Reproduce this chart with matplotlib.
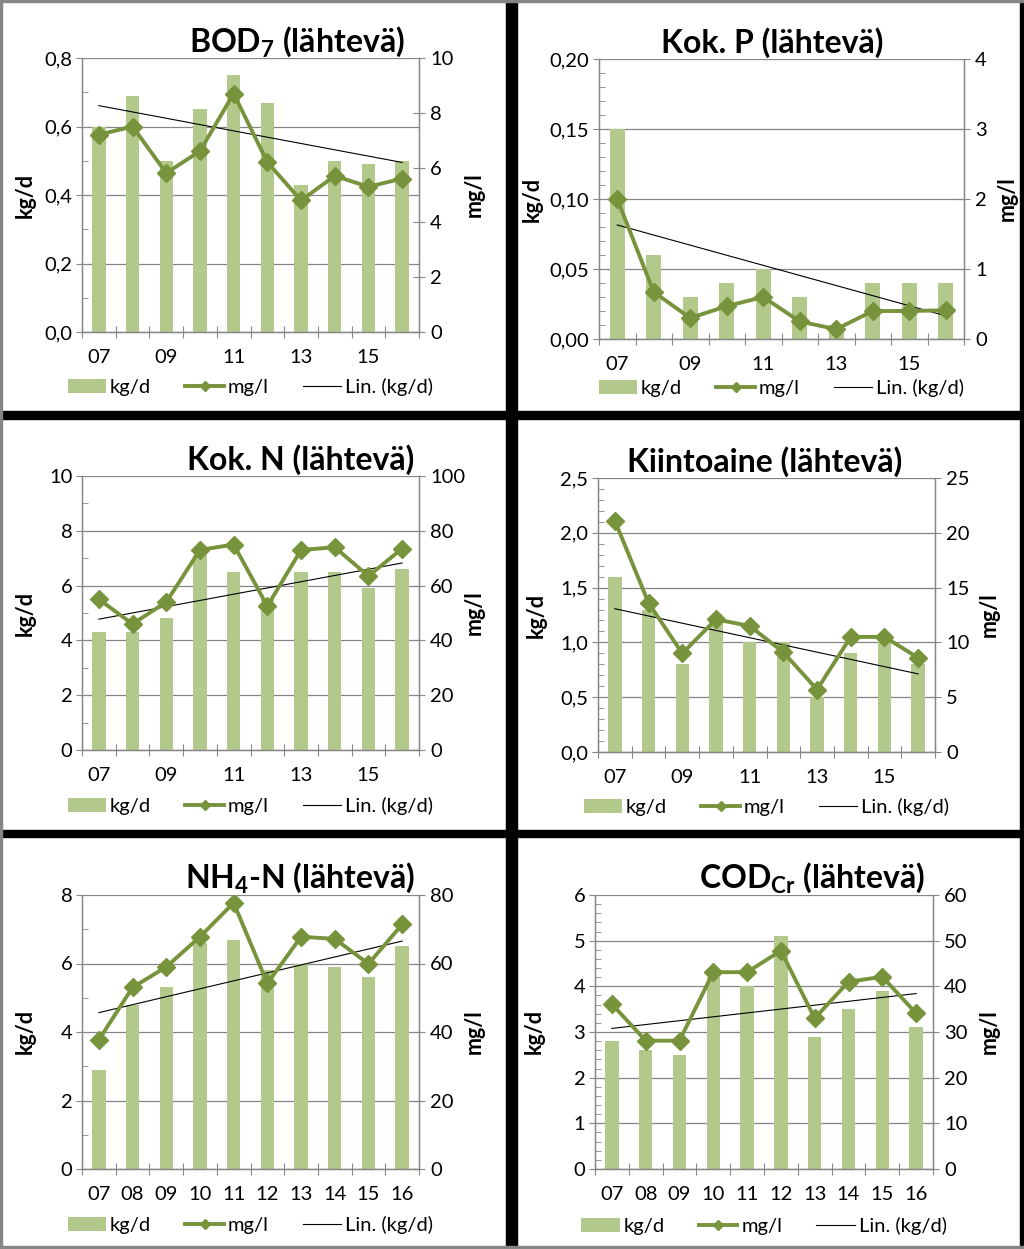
import matplotlib
matplotlib.use("Agg")
import matplotlib.pyplot as plt
import numpy as np
from matplotlib.patches import Rectangle
from matplotlib.ticker import FixedLocator, MultipleLocator, FuncFormatter

plt.rcParams['font.family'] = ['Lato', 'DejaVu Sans']
plt.rcParams['mathtext.fontset'] = 'custom'
plt.rcParams['mathtext.rm'] = 'Lato'
plt.rcParams['mathtext.bf'] = 'Lato:bold'
plt.rcParams['mathtext.default'] = 'bf'

W, H = 1024, 1249
BAR_C = '#b3c98c'
LINE_C = '#77933c'
GRAY = '#868686'
FS = 14.5

years = ['07', '08', '09', '10', '11', '12', '13', '14', '15', '16']

# kg/d (bars) and mg/l (line) per panel
bod_kg = [0.60, 0.69, 0.50, 0.65, 0.75, 0.67, 0.43, 0.50, 0.49, 0.50]
bod_mg = [7.2, 7.5, 5.8, 6.6, 8.7, 6.2, 4.8, 5.7, 5.3, 5.6]
p_kg = [0.15, 0.06, 0.03, 0.04, 0.05, 0.03, 0.01, 0.04, 0.04, 0.04]
p_mg = [2.0, 0.67, 0.30, 0.47, 0.60, 0.25, 0.14, 0.40, 0.40, 0.41]
n_kg = [4.3, 4.3, 4.8, 7.1, 6.5, 5.5, 6.5, 6.5, 5.9, 6.6]
n_mg = [55, 46, 54, 73, 75, 52.5, 73, 74, 63.5, 73.5]
ss_kg = [1.6, 1.3, 0.8, 1.2, 1.0, 1.0, 0.5, 0.9, 1.0, 0.8]
ss_mg = [21.1, 13.6, 9.0, 12.1, 11.5, 9.1, 5.7, 10.5, 10.5, 8.6]
nh4_kg = [2.9, 4.8, 5.3, 6.6, 6.7, 5.8, 6.0, 5.9, 5.6, 6.5]
nh4_mg = [37.7, 53, 59, 67.8, 77.7, 54.2, 67.8, 67.2, 59.9, 71.4]
cod_kg = [2.8, 2.6, 2.5, 4.2, 4.0, 5.1, 2.9, 3.5, 3.9, 3.1]
cod_mg = [36.1, 28.1, 28.1, 43.1, 43.1, 47.8, 33.0, 41.0, 42.1, 34.1]

panels = [
    dict(title=r'BOD$_7$ (lähtevä)', kg=bod_kg, mg=bod_mg, ymax=0.8, major=0.2, minor=0.1, dec=1,
         rmax=10, rstep=2, box=(82, 58, 419, 332), tpos=(405, 52, 'right'),
         lab=(36, 464), legy=387, allx=False),
    dict(title='Kok. P (lähtevä)', kg=p_kg, mg=p_mg, ymax=0.20, major=0.05, minor=0.01, dec=2,
         rmax=4, rstep=1, box=(599, 59, 964, 339), tpos=(772, 53, 'center'),
         lab=(543, 997), legy=388, allx=False),
    dict(title='Kok. N (lähtevä)', kg=n_kg, mg=n_mg, ymax=10, major=2, minor=1, dec=0,
         rmax=100, rstep=20, box=(82, 476, 419, 750), tpos=(414, 470, 'right'),
         lab=(36, 464), legy=806, allx=False),
    dict(title='Kiintoaine (lähtevä)', kg=ss_kg, mg=ss_mg, ymax=2.5, major=0.5, minor=0.1, dec=1,
         rmax=25, rstep=5, box=(598, 478, 935, 752), tpos=(765, 472, 'center'),
         lab=(547, 979), legy=807, allx=False),
    dict(title=r'NH$_4$-N (lähtevä)', kg=nh4_kg, mg=nh4_mg, ymax=8, major=2, minor=1, dec=0,
         rmax=80, rstep=20, box=(82, 895, 419, 1169), tpos=(415, 888, 'right'),
         lab=(36, 464), legy=1225, allx=True),
    dict(title=r'COD$_{Cr}$ (lähtevä)', kg=cod_kg, mg=cod_mg, ymax=6, major=1, minor=0.2, dec=0,
         rmax=60, rstep=10, box=(595, 895, 933, 1169), tpos=(925, 888, 'right'),
         lab=(545, 979), legy=1226, allx=True),
]

fig = plt.figure(figsize=(W / 100, H / 100), dpi=100)
fig.patch.set_facecolor('white')


def fx(px):
    return px / W


def fy(py):
    return 1 - py / H


def fmt(dec):
    return FuncFormatter(lambda v, p: f'{v:.{dec}f}'.replace('.', ','))


x = np.arange(len(years))

for p in panels:
    l, t, r, b = p['box']
    ax = fig.add_axes([fx(l), fy(b), fx(r) - fx(l), fy(t) - fy(b)])
    ax2 = ax.twinx()
    ax.set_zorder(1)
    ax2.set_zorder(2)
    ax.patch.set_visible(False)

    bars = ax.bar(x, p['kg'], width=0.4, color=BAR_C, zorder=2, label='kg/d')
    coef = np.polyfit(x, p['kg'], 1)
    trend, = ax.plot(x, np.polyval(coef, x), color='black', lw=0.8, zorder=3, label='Lin. (kg/d)')
    line, = ax2.plot(x, p['mg'], color=LINE_C, lw=2.8, marker='D', ms=9,
                     mfc=LINE_C, mec=LINE_C, label='mg/l')

    ax.set_xlim(-0.5, len(years) - 0.5)
    ax.set_ylim(0, p['ymax'])
    ax2.set_ylim(0, p['rmax'])

    ax.yaxis.set_major_locator(MultipleLocator(p['major']))
    ax.yaxis.set_minor_locator(MultipleLocator(p['minor']))
    ax.yaxis.set_major_formatter(fmt(p['dec']))
    ax2.yaxis.set_major_locator(MultipleLocator(p['rstep']))

    ax.xaxis.set_major_locator(FixedLocator(np.arange(-0.5, len(years), 1.0)))
    ax.set_xticklabels([])
    labels = years if p['allx'] else [y if i % 2 == 0 else '' for i, y in enumerate(years)]
    ax.set_xticks(x, labels, minor=True)

    ax.grid(axis='y', which='major', color=GRAY, lw=0.9, zorder=0)
    ax.set_axisbelow(True)

    for a in (ax, ax2):
        a.spines['top'].set_visible(False)
        for s in ('left', 'right', 'bottom'):
            a.spines[s].set_color(GRAY)
            a.spines[s].set_linewidth(0.9)

    ax.tick_params(axis='y', which='major', direction='out', length=4, color=GRAY,
                   labelsize=FS, pad=3)
    ax.tick_params(axis='y', which='minor', direction='in', length=4, color=GRAY)
    ax.tick_params(axis='x', which='major', direction='inout', length=8, color=GRAY)
    ax.tick_params(axis='x', which='minor', length=0, labelsize=FS, pad=12)
    ax2.tick_params(axis='y', direction='inout', length=8, color=GRAY, labelsize=FS, pad=4)

    ax.set_ylabel('kg/d', fontsize=15.5, fontweight='bold')
    ax2.set_ylabel('mg/l', fontsize=15.5, fontweight='bold', rotation=90)
    wpx = r - l
    ax.yaxis.set_label_coords((p['lab'][0] - l) / wpx, 0.5)
    ax2.yaxis.set_label_coords((p['lab'][1] - l) / wpx, 0.5)

    tx, ty, ha = p['tpos']
    fig.text(fx(tx), fy(ty), p['title'], fontsize=23, fontweight='bold', ha=ha, va='baseline')

    fig.legend([bars, line, trend], ['kg/d', 'mg/l', 'Lin. (kg/d)'], loc='center',
               bbox_to_anchor=(fx((l + r) / 2), fy(p['legy'])), ncol=3, frameon=False,
               fontsize=FS, handlelength=1.9, handletextpad=0.2, columnspacing=1.7,
               markerscale=0.6)

# panel frames
for (x0, y0, x1, y1) in [(506, 0, 517, H), (0, 411, W, 419), (0, 830, W, 837), (1020, 0, W, H)]:
    fig.add_artist(Rectangle((fx(x0), fy(y1)), fx(x1) - fx(x0), fy(y0) - fy(y1),
                             transform=fig.transFigure, color='black', zorder=10))
for (x0, y0, x1, y1) in [(0, 0, 2, H), (0, 0, W, 2), (0, H - 3, W, H - 1)]:
    fig.add_artist(Rectangle((fx(x0), fy(y1)), fx(x1) - fx(x0), fy(y0) - fy(y1),
                             transform=fig.transFigure, color=GRAY, zorder=10))

fig.savefig('out.png', dpi=100, facecolor='white')
